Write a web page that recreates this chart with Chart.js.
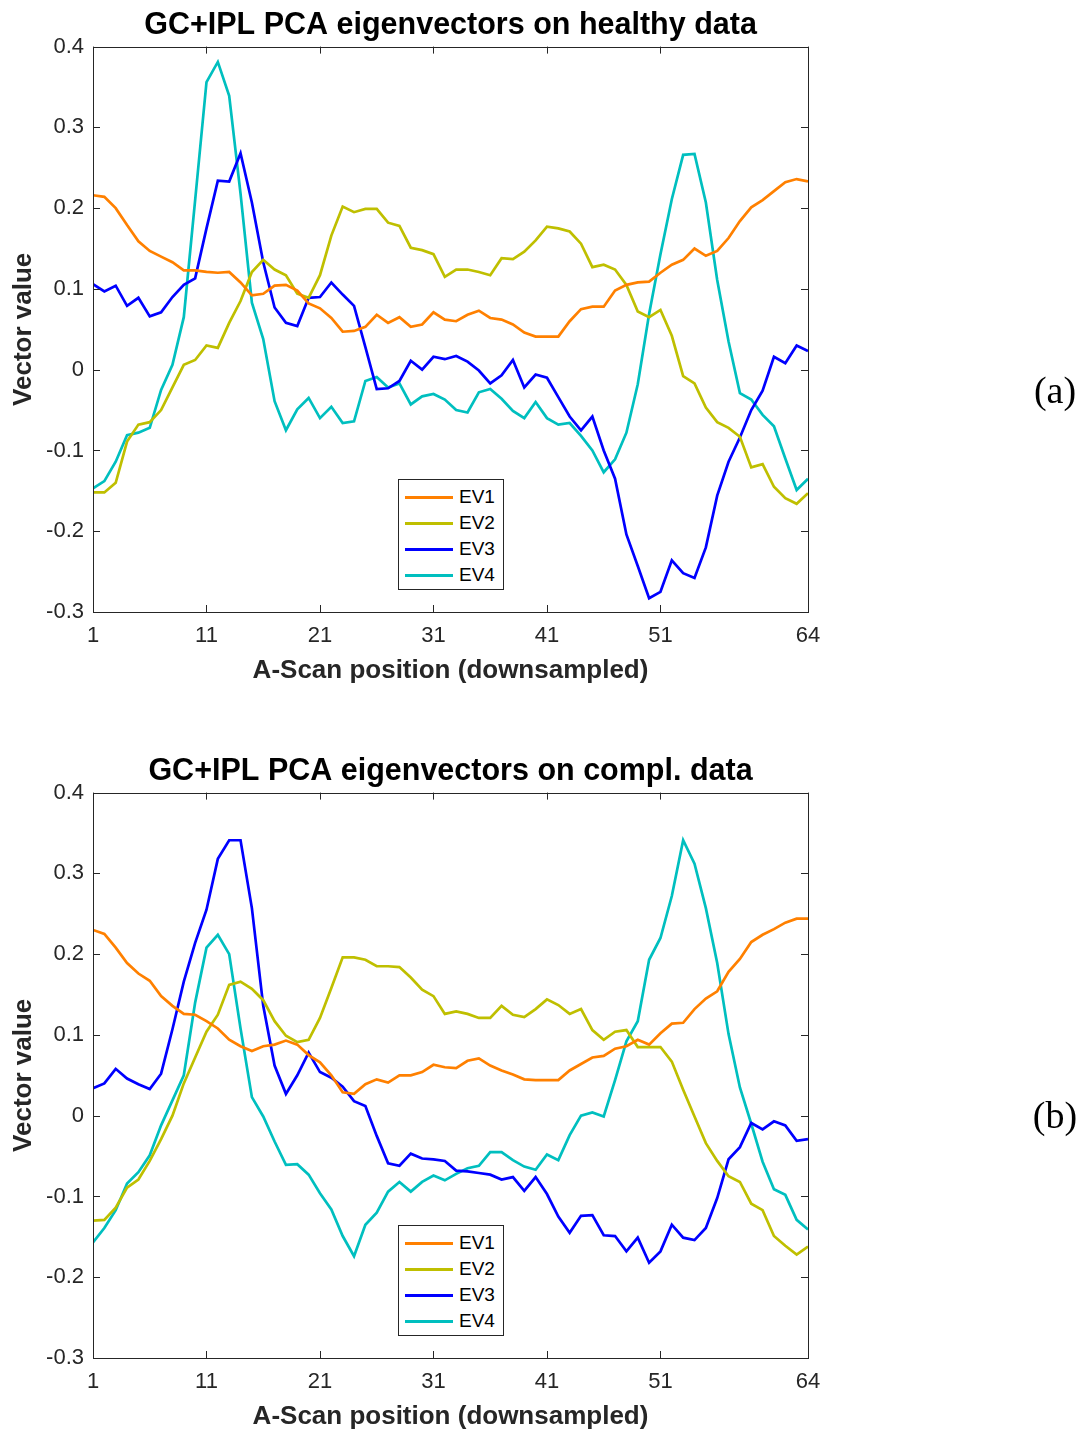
<!DOCTYPE html>
<html>
<head>
<meta charset="utf-8">
<script src="https://cdn.jsdelivr.net/npm/chart.js@4.4.1/dist/chart.umd.min.js"></script>
<style>
  body { margin: 0; background: #fff; }
  #page { position: relative; width: 1081px; height: 1432px; overflow: hidden; font-family: "Liberation Sans", Arial, sans-serif; }
  .panel { position: absolute; left: 0; width: 1081px; height: 686px; }
  .legend { position: absolute; left: 398px; width: 104px; height: 105px; padding-top: 4px; border: 1px solid #262626; background: #fff; }
  .legend .row { height: 26px; display: flex; align-items: center; font-size: 19px; color: #000; }
  .legend .swatch { width: 48px; height: 3px; margin: 0 6px 0 6px; }
  .tag { position: absolute; left: 1020px; width: 70px; text-align: center; font-family: "Liberation Serif", serif; font-size: 38px; line-height: 40px; color: #000; }
</style>
</head>
<body>
<div id="page">
  <div class="panel" style="top:0"><canvas id="chartA" width="1081" height="686"></canvas></div>
  <div class="panel" style="top:746px"><canvas id="chartB" width="1081" height="686"></canvas></div>
  <div class="legend" id="legendA" style="top:479px"></div>
  <div class="legend" id="legendB" style="top:1225px"></div>
  <div class="tag" style="top:370px">(a)</div>
  <div class="tag" style="top:1095px">(b)</div>
</div>
<script>
// A-scan positions (downsampled), 1..64
const positions = Array.from({ length: 64 }, (_, i) => i + 1);
const xTicks = [1, 11, 21, 31, 41, 51, 64];
const seriesNames = ['EV1', 'EV2', 'EV3', 'EV4'];
const seriesColors = ['#ff8000', '#bfbf00', '#0000ff', '#00bfbf'];

// (a) healthy data
const healthyEV1 = [0.216, 0.214, 0.200, 0.179, 0.159, 0.147, 0.140, 0.133, 0.123, 0.123,
  0.121, 0.120, 0.121, 0.108, 0.092, 0.094, 0.104, 0.105, 0.098, 0.082,
  0.076, 0.064, 0.047, 0.048, 0.053, 0.068, 0.058, 0.065, 0.053, 0.056,
  0.071, 0.062, 0.060, 0.068, 0.073, 0.064, 0.062, 0.056, 0.046, 0.041,
  0.041, 0.041, 0.060, 0.075, 0.078, 0.078, 0.098, 0.105, 0.108, 0.109,
  0.120, 0.130, 0.136, 0.150, 0.141, 0.147, 0.163, 0.184, 0.201, 0.210,
  0.221, 0.232, 0.236, 0.233];
const healthyEV2 = [-0.152, -0.152, -0.140, -0.089, -0.068, -0.065, -0.050, -0.022, 0.006, 0.012,
  0.030, 0.027, 0.058, 0.085, 0.121, 0.136, 0.124, 0.117, 0.094, 0.089,
  0.117, 0.166, 0.202, 0.195, 0.199, 0.199, 0.182, 0.178, 0.151, 0.148,
  0.143, 0.115, 0.124, 0.124, 0.121, 0.117, 0.138, 0.137, 0.146, 0.160,
  0.177, 0.175, 0.171, 0.156, 0.127, 0.130, 0.124, 0.105, 0.072, 0.065,
  0.074, 0.042, -0.008, -0.017, -0.047, -0.065, -0.072, -0.083, -0.121, -0.117,
  -0.145, -0.159, -0.166, -0.153];
const healthyEV3 = [0.106, 0.097, 0.104, 0.079, 0.089, 0.066, 0.071, 0.090, 0.105, 0.113,
  0.175, 0.234, 0.233, 0.268, 0.207, 0.133, 0.077, 0.058, 0.054, 0.089,
  0.090, 0.108, 0.093, 0.079, 0.028, -0.024, -0.023, -0.014, 0.011, 0.000,
  0.016, 0.013, 0.017, 0.010, -0.001, -0.017, -0.007, 0.012, -0.022, -0.006,
  -0.010, -0.034, -0.058, -0.075, -0.058, -0.100, -0.135, -0.204, -0.243, -0.283,
  -0.275, -0.236, -0.252, -0.258, -0.220, -0.156, -0.114, -0.084, -0.050, -0.026,
  0.016, 0.008, 0.030, 0.023];
const healthyEV4 = [-0.147, -0.138, -0.114, -0.081, -0.078, -0.072, -0.025, 0.006, 0.065, 0.210,
  0.356, 0.381, 0.339, 0.218, 0.083, 0.038, -0.039, -0.075, -0.049, -0.035,
  -0.060, -0.046, -0.066, -0.064, -0.014, -0.009, -0.022, -0.017, -0.043, -0.033,
  -0.030, -0.037, -0.050, -0.053, -0.028, -0.024, -0.036, -0.051, -0.060, -0.040,
  -0.060, -0.068, -0.066, -0.082, -0.100, -0.127, -0.111, -0.078, -0.018, 0.069,
  0.143, 0.211, 0.266, 0.267, 0.207, 0.111, 0.035, -0.029, -0.037, -0.056,
  -0.070, -0.110, -0.149, -0.135];

// (b) compl. data
const complEV1 = [0.230, 0.225, 0.208, 0.189, 0.176, 0.167, 0.148, 0.136, 0.126, 0.125,
  0.117, 0.108, 0.094, 0.086, 0.080, 0.086, 0.088, 0.093, 0.088, 0.075,
  0.066, 0.050, 0.029, 0.027, 0.039, 0.045, 0.041, 0.050, 0.050, 0.054,
  0.063, 0.060, 0.059, 0.068, 0.071, 0.062, 0.056, 0.051, 0.045, 0.044,
  0.044, 0.044, 0.056, 0.064, 0.072, 0.074, 0.083, 0.086, 0.094, 0.088,
  0.102, 0.114, 0.115, 0.132, 0.145, 0.154, 0.178, 0.194, 0.215, 0.224,
  0.231, 0.239, 0.244, 0.244];
const complEV2 = [-0.130, -0.129, -0.114, -0.089, -0.079, -0.056, -0.029, 0.000, 0.040, 0.072,
  0.104, 0.125, 0.162, 0.166, 0.157, 0.143, 0.117, 0.099, 0.091, 0.094,
  0.121, 0.158, 0.196, 0.196, 0.193, 0.185, 0.185, 0.184, 0.171, 0.156,
  0.148, 0.126, 0.129, 0.126, 0.121, 0.121, 0.136, 0.125, 0.122, 0.132,
  0.144, 0.137, 0.126, 0.132, 0.106, 0.094, 0.104, 0.106, 0.085, 0.085,
  0.085, 0.067, 0.032, -0.001, -0.034, -0.056, -0.075, -0.082, -0.109, -0.117,
  -0.149, -0.161, -0.172, -0.162];
const complEV3 = [0.034, 0.040, 0.058, 0.046, 0.039, 0.033, 0.052, 0.107, 0.166, 0.214,
  0.255, 0.318, 0.341, 0.341, 0.257, 0.136, 0.062, 0.027, 0.050, 0.078,
  0.054, 0.047, 0.036, 0.018, 0.012, -0.025, -0.059, -0.062, -0.047, -0.053,
  -0.054, -0.056, -0.068, -0.069, -0.071, -0.073, -0.079, -0.076, -0.093, -0.076,
  -0.097, -0.125, -0.145, -0.124, -0.123, -0.148, -0.149, -0.168, -0.151, -0.182,
  -0.168, -0.135, -0.151, -0.154, -0.139, -0.102, -0.054, -0.039, -0.009, -0.017,
  -0.007, -0.012, -0.031, -0.029];
const complEV4 = [-0.157, -0.139, -0.117, -0.084, -0.070, -0.049, -0.012, 0.019, 0.050, 0.140,
  0.208, 0.224, 0.200, 0.108, 0.023, -0.001, -0.032, -0.061, -0.060, -0.073,
  -0.096, -0.116, -0.149, -0.174, -0.135, -0.120, -0.094, -0.082, -0.094, -0.082,
  -0.074, -0.080, -0.072, -0.065, -0.062, -0.045, -0.045, -0.055, -0.063, -0.067,
  -0.048, -0.055, -0.024, 0.000, 0.004, -0.001, 0.044, 0.092, 0.117, 0.193,
  0.220, 0.272, 0.341, 0.312, 0.257, 0.189, 0.101, 0.035, -0.010, -0.057,
  -0.091, -0.098, -0.129, -0.141];

const axisColor = '#262626';
Chart.defaults.font.family = '"Liberation Sans", Arial, sans-serif';
Chart.defaults.color = axisColor;

// matlab-like box with inward tick marks
const axesBox = {
  id: 'axesBox',
  afterDatasetsDraw(chart) {
    const { ctx, chartArea: a, scales: { x, y } } = chart;
    const len = 7;
    ctx.save();
    ctx.strokeStyle = axisColor;
    ctx.lineWidth = 1;
    ctx.beginPath();
    x.ticks.forEach(t => {
      const px = Math.round(x.getPixelForValue(t.value)) + 0.5;
      ctx.moveTo(px, a.bottom); ctx.lineTo(px, a.bottom - len);
      ctx.moveTo(px, a.top); ctx.lineTo(px, a.top + len);
    });
    y.ticks.forEach(t => {
      const py = Math.round(y.getPixelForValue(t.value)) + 0.5;
      ctx.moveTo(a.left, py); ctx.lineTo(a.left + len, py);
      ctx.moveTo(a.right, py); ctx.lineTo(a.right - len, py);
    });
    ctx.stroke();
    ctx.strokeRect(Math.round(a.left) + 0.5, Math.round(a.top) + 0.5,
      Math.round(a.right - a.left), Math.round(a.bottom - a.top));
    ctx.restore();
  }
};

function makeChart(id, legendId, title, series) {
  const datasets = series.map((vals, i) => ({
    label: seriesNames[i],
    data: vals.map((v, k) => ({ x: positions[k], y: v })),
    borderColor: seriesColors[i],
    borderWidth: 2.7,
    pointRadius: 0,
    tension: 0,
    fill: false
  }));

  new Chart(document.getElementById(id), {
    type: 'line',
    data: { datasets },
    options: {
      responsive: false,
      animation: false,
      devicePixelRatio: 1,
      layout: { padding: { left: 0, right: 273, top: 0, bottom: 0 } },
      plugins: {
        legend: { display: false },
        tooltip: { enabled: false },
        title: {
          display: true,
          text: title,
          fullSize: false,
          color: '#000',
          font: { size: 30.5, weight: 'bold' },
          padding: { top: 7, bottom: 3 }
        }
      },
      scales: {
        x: {
          type: 'linear',
          min: 1,
          max: 64,
          bounds: 'data',
          afterBuildTicks: s => { s.ticks = xTicks.map(v => ({ value: v })); },
          afterFit: s => { s.height = 74; },
          grid: { display: false, drawTicks: false },
          border: { display: false },
          ticks: { font: { size: 22 }, padding: 11, maxRotation: 0, autoSkip: false },
          title: {
            display: true,
            text: 'A-Scan position (downsampled)',
            font: { size: 26, weight: 'bold' },
            padding: { top: 0, bottom: 0 }
          }
        },
        y: {
          min: -0.3,
          max: 0.4,
          afterFit: s => { s.width = 93; },
          grid: { display: false, drawTicks: false },
          border: { display: false },
          ticks: {
            stepSize: 0.1,
            font: { size: 22 },
            padding: 9,
            callback: v => String(Math.round(v * 10) / 10)
          },
          title: {
            display: true,
            text: 'Vector value',
            font: { size: 26, weight: 'bold' },
            padding: { top: 8, bottom: 0 }
          }
        }
      }
    },
    plugins: [axesBox]
  });

  const legend = document.getElementById(legendId);
  datasets.forEach(d => {
    const row = document.createElement('div');
    row.className = 'row';
    const sw = document.createElement('span');
    sw.className = 'swatch';
    sw.style.background = d.borderColor;
    const txt = document.createElement('span');
    txt.textContent = d.label;
    row.appendChild(sw);
    row.appendChild(txt);
    legend.appendChild(row);
  });
}

makeChart('chartA', 'legendA', 'GC+IPL PCA eigenvectors on healthy data',
  [healthyEV1, healthyEV2, healthyEV3, healthyEV4]);
makeChart('chartB', 'legendB', 'GC+IPL PCA eigenvectors on compl. data',
  [complEV1, complEV2, complEV3, complEV4]);
</script>
</body>
</html>
